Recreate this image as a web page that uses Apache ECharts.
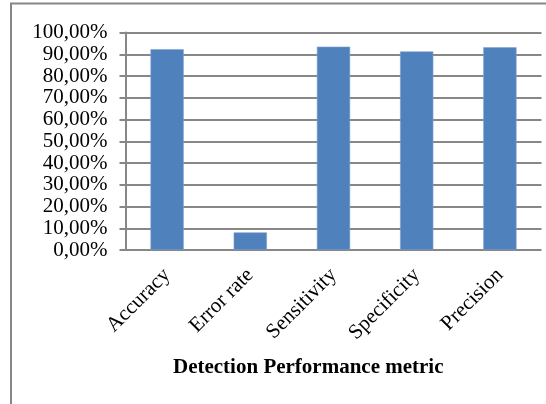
<!DOCTYPE html>
<html>
<head>
<meta charset="utf-8">
<script src="https://cdn.jsdelivr.net/npm/echarts@6/dist/echarts.min.js"></script>
<style>
html,body{margin:0;padding:0;background:#fff;}
#c{width:546px;height:404px;}
</style>
</head>
<body>
<div id="c"></div>
<script>
const categories = ["Accuracy", "Error rate", "Sensitivity", "Specificity", "Precision"];
const values = [92.3, 8.1, 93.5, 91.3, 93.2];
const yMin = 0, yMax = 100, yStep = 10;
const axisTitle = "Detection Performance metric";

const chart = echarts.init(document.getElementById('c'), null, {renderer: 'canvas'});
const serif = '"Liberation Serif", "Times New Roman", serif';
chart.setOption({
  animation: false,
  backgroundColor: '#ffffff',
  grid: {left: 125.5, right: 4.5, top: 32.5, bottom: 154, containLabel: false},
  xAxis: {
    type: 'category',
    data: categories,
    axisLine: {show: false},
    axisTick: {show: false},
    axisLabel: {
      rotate: 45, interval: 0, margin: 22,
      fontFamily: serif, fontSize: 21, color: '#000'
    }
  },
  yAxis: {
    type: 'value',
    min: yMin, max: yMax, interval: yStep,
    axisLine: {show: true, lineStyle: {color: '#878787', width: 2}},
    axisTick: {show: true, length: 6, lineStyle: {color: '#878787', width: 2}},
    splitLine: {show: true, lineStyle: {color: '#878787', width: 2}},
    axisLabel: {
      margin: 18,
      fontFamily: serif, fontSize: 21, color: '#000',
      formatter: v => v.toFixed(2).replace('.', ',') + '%'
    }
  },
  series: [{
    type: 'bar',
    data: values,
    barWidth: '40%',
    itemStyle: {color: '#4F81BD', borderColor: '#7FA3D0', borderWidth: 0.6},
    z: 3
  }],
  graphic: [
    {type: 'rect', shape: {x: 11, y: 3.5, width: 600, height: 500},
     style: {fill: 'none', stroke: '#878787', lineWidth: 2}, silent: true},
    {type: 'text', left: 173, top: 357,
     style: {text: axisTitle, font: 'bold 21px ' + serif, fill: '#000'}}
  ]
});
</script>
</body>
</html>
